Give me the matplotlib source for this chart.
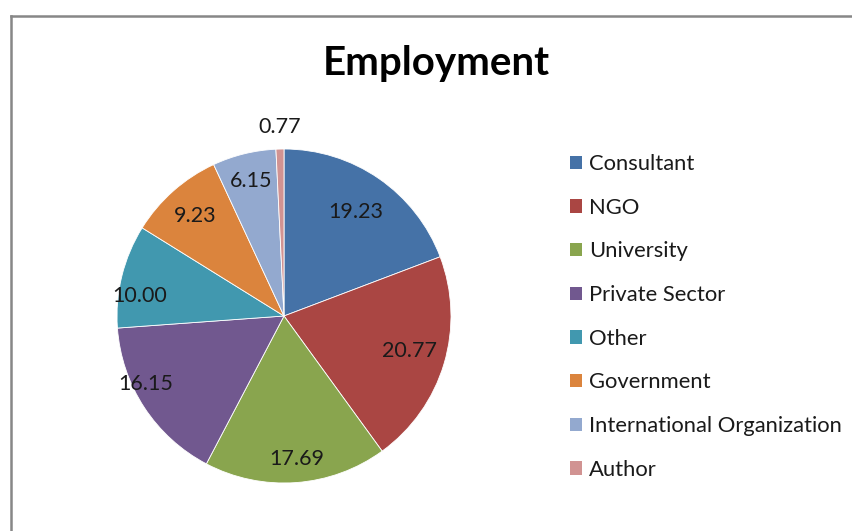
import matplotlib
matplotlib.use("Agg")
import matplotlib.pyplot as plt
import numpy as np
from matplotlib.patches import Patch
from matplotlib.lines import Line2D

categories = ["Consultant", "NGO", "University", "Private Sector", "Other",
              "Government", "International Organization", "Author"]
values = [19.23, 20.77, 17.69, 16.15, 10.00, 9.23, 6.15, 0.77]
title = "Employment"

colors = ["#4572A7", "#AA4643", "#89A54E", "#71588F", "#4198AF",
          "#DB843D", "#93A9CF", "#D19392"]
# label placement style (radial fraction, angle tweak in degrees)
label_r = [0.76, 0.78, 0.86, 0.92, 0.87, 0.80, 0.83, 1.13]
label_dtheta = [0, 1, 1, -7, 6, 0, 0, 0]

plt.rcParams['font.family'] = ['Lato', 'DejaVu Sans']

W, H = 852, 531
fig = plt.figure(figsize=(W / 100, H / 100), dpi=100)

# outer chart border (top and left visible)
fig.add_artist(Line2D([10.5 / W, 10.5 / W], [0, 1 - 15.5 / H], color="#878787", lw=1.8,
                      transform=fig.transFigure))
fig.add_artist(Line2D([10.5 / W, 1], [1 - 15.5 / H, 1 - 15.5 / H], color="#878787", lw=1.8,
                      transform=fig.transFigure))

cx, cy, R = 284, 316, 167
ax = fig.add_axes([(cx - R) / W, (H - cy - R) / H, 2 * R / W, 2 * R / H])
wedges, _ = ax.pie(values, colors=colors, startangle=90, counterclock=False,
                   wedgeprops=dict(edgecolor="white", linewidth=0.6))
ax.set_xlim(-1, 1)
ax.set_ylim(-1, 1)
ax.set_aspect("equal")
ax.axis("off")

for w, v, rf, dt in zip(wedges, values, label_r, label_dtheta):
    th = np.deg2rad((w.theta1 + w.theta2) / 2 + dt)
    ax.text(rf * np.cos(th), rf * np.sin(th), f"{v:.2f}", ha="center", va="center",
            fontsize=15.5, color="#1a1a1a", clip_on=False)

fig.text(436 / W, 1 - 64 / H, title, ha="center", va="center", fontsize=29,
         fontweight="bold", color="black")

handles = [Patch(facecolor=c, edgecolor="none") for c in colors]
fig.legend(handles, categories, loc="upper left",
           bbox_to_anchor=(570 / W, 1 - 154 / H), frameon=False, fontsize=15.8,
           handlelength=0.56, handleheight=0.56, handletextpad=0.3,
           labelspacing=1.08, borderaxespad=0, borderpad=0,
           labelcolor="#1a1a1a")

fig.savefig("out.png", dpi=100)
